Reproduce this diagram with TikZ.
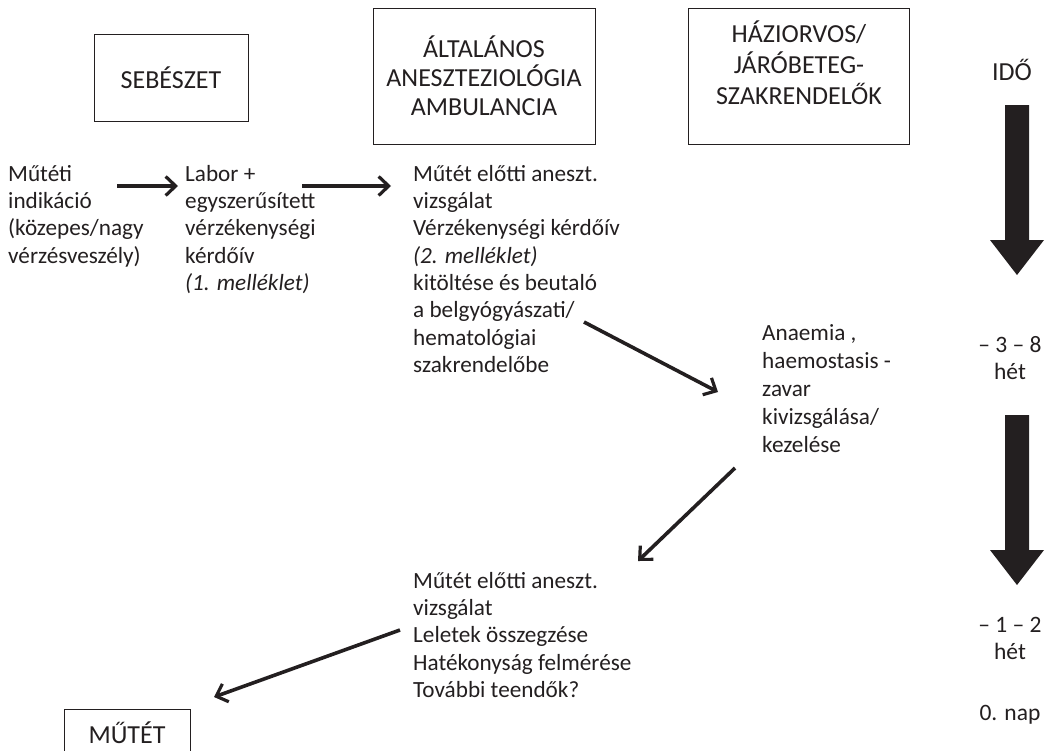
\documentclass[tikz,border=0pt]{standalone}
\usepackage{fontspec}
\setmainfont{Carlito}
\usepackage{tikz}
\usetikzlibrary{arrows.meta,positioning}
\usepackage{xcolor}
\definecolor{ink}{HTML}{231F20}

\begin{document}
\begin{tikzpicture}[x=1pt, y=-1pt, every node/.style={text=ink, font=\fontsize{23.2}{27.3}\selectfont},
    hdr/.style={draw=ink, line width=0.9pt, align=center, inner sep=0pt, font=\fontsize{26}{29}\selectfont},
    txt/.style={align=left, anchor=north west, inner sep=0pt},
    tlabel/.style={align=center, inner sep=0pt, font=\fontsize{23.5}{27}\selectfont},
    flow/.style={draw=ink, line width=3.6pt, -{Straight Barb[length=10pt,width=19pt,line width=3.2pt]}},
    timearrow/.style={fill=ink, draw=none}]
    \useasboundingbox (0,0) rectangle (1047,750);
    % header boxes
    \node[hdr, minimum width=154pt, minimum height=87pt] (seb) at (171,78) {SEBÉSZET};
    \node[hdr, minimum width=222pt, minimum height=136pt] (alt) at (484,76) {ÁLTALÁNOS\\ANESZTEZIOLÓGIA\\AMBULANCIA};
    \node[hdr, minimum width=221pt, minimum height=136pt, font=\fontsize{26}{31}\selectfont] (haz) at (799,76) {HÁZIORVOS/\\JÁRÓBETEG-\\SZAKRENDELŐK\\[-5pt]};
    \node[tlabel, font=\fontsize{26}{29}\selectfont] (ido) at (1012,70) {IDŐ};
    % flow texts
    \node[txt] (indik) at (8,165) {Műtéti\\indikáció\\(közepes/nagy\\vérzésveszély)};
    \node[txt] (labor) at (185,165) {Labor +\\egyszerűsített\\vérzékenységi\\kérdőív\\\textit{(1. melléklet)}};
    \node[txt] (vizsg) at (413,165) {Műtét előtti aneszt.\\vizsgálat\\Vérzékenységi kérdőív\\\textit{(2. melléklet)}\\kitöltése és beutaló\\a belgyógyászati/\\hematológiai\\szakrendelőbe};
    \node[txt, font=\fontsize{23.2}{28}\selectfont] (anaem) at (762,324) {Anaemia ,\\haemostasis -\\zavar\\kivizsgálása/\\kezelése};
    \node[txt] (osszeg) at (413,572) {Műtét előtti aneszt.\\vizsgálat\\Leletek összegzése\\Hatékonyság felmérése\\További teendők?};
    \node[hdr, minimum width=126pt, minimum height=48pt] (mutet) at (127,733) {MŰTÉT};
    % time labels
    \node[tlabel] (t1) at (1010,358) {– 3 – 8\\hét};
    \node[tlabel] (t2) at (1010,638) {– 1 – 2\\hét};
    \node[tlabel] (t0) at (1010,715) {0. nap};
    % arrow ends
    \coordinate (a1) at (117,186);  \coordinate (b1) at (178,186);
    \coordinate (a2) at (302,186);  \coordinate (b2) at (391,186);
    \coordinate (a3) at (584,322);  \coordinate (b3) at (718,392);
    \coordinate (a4) at (735,468);  \coordinate (b4) at (638,561);
    \coordinate (a5) at (400,630);  \coordinate (b5) at (214,697);
    \draw[flow] (a1) -- (b1);
    \draw[flow] (a2) -- (b2);
    \draw[flow] (a3) -- (b3);
    \draw[flow] (a4) -- (b4);
    \draw[flow] (a5) -- (b5);
    % time arrows
    \fill[timearrow] (1005,105) -- (1029,105) -- (1029,240) -- (1044,240) -- (1017,275) -- (990,240) -- (1005,240) -- cycle;
    \fill[timearrow] (1005,415) -- (1029,415) -- (1029,550) -- (1044,550) -- (1017,585) -- (990,550) -- (1005,550) -- cycle;
\end{tikzpicture}
\end{document}
